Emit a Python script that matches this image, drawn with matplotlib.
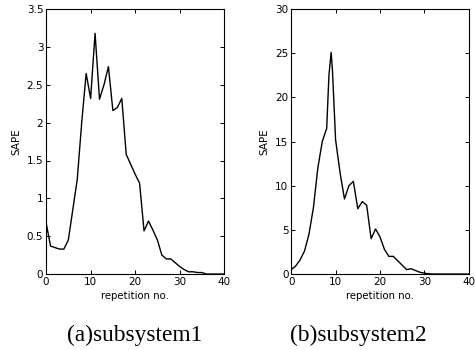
import matplotlib
matplotlib.use("Agg")
import matplotlib.pyplot as plt
import numpy as np

# SAPE per repetition for each subsystem
rep1 = list(range(0, 41))
sape1 = [0.68, 0.37, 0.35, 0.33, 0.33, 0.45, 0.85, 1.25, 2.0, 2.65,
         2.32, 3.18, 2.31, 2.5, 2.74, 2.16, 2.2, 2.32, 1.58, 1.45,
         1.32, 1.2, 0.57, 0.7, 0.58, 0.45, 0.25, 0.2, 0.2, 0.15,
         0.1, 0.06, 0.03, 0.03, 0.02, 0.02, 0.0, 0.0, 0.0, 0.0, 0.0]

rep2 = [0, 1, 2, 3, 4, 5, 6, 7, 8, 8.5, 9, 9.3, 10, 11, 12, 13, 14, 15, 16,
        17, 18, 19, 20, 21, 22, 23, 24, 25, 26, 27, 28, 29, 30, 31, 32,
        33, 34, 35, 36, 37, 38, 39, 40]
sape2 = [0.5, 0.9, 1.6, 2.6, 4.5, 7.5, 12.0, 15.0, 16.5, 22.5, 25.1, 23.0,
         15.2, 11.5, 8.5, 10.0, 10.5, 7.4, 8.2, 7.8, 4.0, 5.1, 4.2, 2.8,
         2.0, 2.0, 1.5, 1.0, 0.5, 0.6, 0.4, 0.2, 0.1, 0.03, 0.0,
         0.0, 0.0, 0.0, 0.0, 0.0, 0.0, 0.0, 0.0]

xticks = [0, 10, 20, 30, 40]
yticks1 = [0, 0.5, 1, 1.5, 2, 2.5, 3, 3.5]
yticks2 = [0, 5, 10, 15, 20, 25, 30]
captions = ["(a)subsystem1", "(b)subsystem2"]

fig = plt.figure(figsize=(4.75, 3.5), dpi=100)
ax1 = fig.add_axes([0.097, 0.217, 0.375, 0.757])
ax2 = fig.add_axes([0.613, 0.217, 0.374, 0.757])

panels = [(ax1, rep1, sape1, yticks1, (0, 3.5)),
          (ax2, rep2, sape2, yticks2, (0, 30))]

for ax, x, y, yt, ylim in panels:
    ax.plot(x, y, color="black", lw=1.0)
    ax.set_xlim(0, 40)
    ax.set_ylim(*ylim)
    ax.set_xticks(xticks)
    ax.set_yticks(yt)
    ax.set_yticklabels([f"{v:g}" for v in yt])
    ax.tick_params(direction="in", length=3, width=0.7, labelsize=7.5,
                   top=True, right=True, pad=2)
    for s in ax.spines.values():
        s.set_linewidth(0.8)
    ax.set_xlabel("repetition no.", fontsize=7.3, labelpad=3)
    ax.set_ylabel("SAPE", fontsize=7.5, labelpad=4)

fig.text(0.283, 0.043, captions[0], ha="center", va="center",
         fontsize=16.8, family="Liberation Serif")
fig.text(0.755, 0.043, captions[1], ha="center", va="center",
         fontsize=16.8, family="Liberation Serif")

fig.savefig("out.png", dpi=100)
